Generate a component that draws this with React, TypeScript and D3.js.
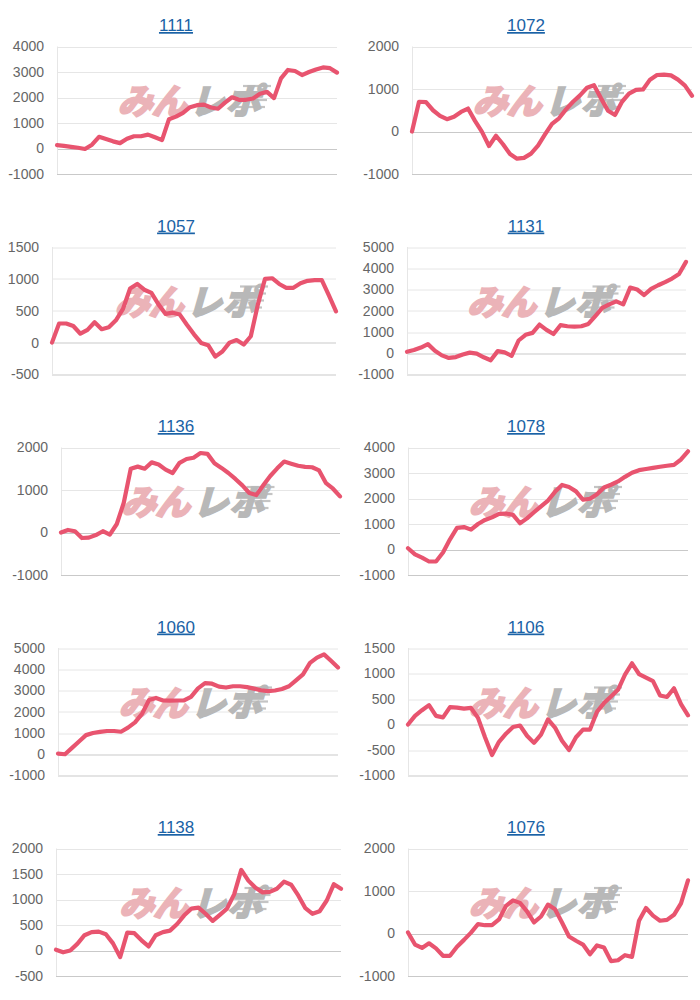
import React from "react";
import * as d3 from "d3";

// ---- data ----
const titles = ["1111", "1072", "1057", "1131", "1136", "1078", "1060", "1106", "1138", "1076"];

const s1111 = [130, 100, 65, 30, -20, 150, 460, 370, 280, 210, 380, 480, 480, 545, 440, 330, 1150, 1250, 1400, 1620, 1700, 1720, 1610, 1560, 1800, 2010, 1910, 1910, 1960, 2150, 2220, 1975, 2750, 3080, 3040, 2880, 3000, 3100, 3180, 3150, 2975];
const s1072 = [0, 700, 690, 500, 370, 290, 345, 460, 540, 250, -10, -340, -100, -300, -530, -640, -620, -520, -330, -70, 180, 310, 520, 700, 850, 1030, 1090, 780, 490, 390, 700, 890, 980, 990, 1220, 1330, 1340, 1320, 1220, 1080, 840];
const s1057 = [0, 300, 300, 260, 140, 200, 320, 210, 240, 350, 530, 850, 920, 830, 780, 600, 450, 470, 440, 280, 130, -5, -40, -220, -140, 0, 40, -30, 100, 600, 1000, 1010, 920, 860, 860, 930, 970, 980, 980, 740, 490];
const s1131 = [70, 150, 270, 430, 120, -100, -220, -180, -60, 30, -20, -190, -330, 100, 40, -120, 600, 870, 960, 1350, 1100, 905, 1320, 1270, 1250, 1270, 1380, 1750, 2130, 2300, 2440, 2300, 3090, 3000, 2740, 3030, 3200, 3350, 3515, 3730, 4300];
const s1136 = [0, 60, 30, -130, -120, -60, 30, -50, 200, 700, 1500, 1550, 1500, 1650, 1600, 1480, 1400, 1640, 1730, 1760, 1870, 1850, 1630, 1520, 1400, 1260, 1110, 930, 880, 1110, 1330, 1510, 1670, 1620, 1570, 1545, 1535, 1460, 1160, 1030, 850];
const s1078 = [50, -190, -320, -470, -470, -120, 400, 850, 880, 780, 1000, 1160, 1260, 1400, 1410, 1360, 1030, 1220, 1460, 1690, 1920, 2260, 2530, 2450, 2280, 1950, 1990, 2170, 2430, 2540, 2670, 2850, 3010, 3110, 3155, 3200, 3245, 3285, 3320, 3530, 3850];
const s1060 = [30, 0, 300, 600, 900, 1000, 1050, 1095, 1095, 1060, 1250, 1500, 1900, 2550, 2650, 2530, 2520, 2530, 2530, 2700, 3100, 3350, 3320, 3180, 3140, 3200, 3200, 3160, 3090, 3010, 2970, 3000, 3070, 3200, 3480, 3760, 4300, 4550, 4700, 4400, 4080];
const s1106 = [0, 170, 280, 380, 170, 140, 340, 330, 310, 325, 130, -250, -600, -340, -180, -50, -20, -220, -360, -200, 100, -60, -320, -500, -250, -100, -100, 250, 420, 550, 680, 980, 1200, 990, 920, 850, 570, 540, 710, 400, 180];
const s1138 = [15, -35, 0, 130, 300, 360, 370, 320, 140, -130, 350, 340, 200, 80, 300, 360, 390, 520, 690, 820, 840, 720, 580, 700, 820, 1100, 1580, 1370, 1230, 1140, 1150, 1210, 1350, 1290, 1080, 830, 720, 770, 980, 1300, 1210];
const s1076 = [25, -260, -340, -230, -350, -525, -525, -310, -150, 20, 220, 195, 195, 330, 650, 780, 720, 520, 260, 400, 680, 570, 260, -70, -170, -260, -490, -280, -330, -650, -630, -510, -550, 300, 600, 420, 300, 320, 440, 710, 1250];

const ticks1111 = [-1000, 0, 1000, 2000, 3000, 4000];
const ticks1072 = [-1000, 0, 1000, 2000];
const ticks1057 = [-500, 0, 500, 1000, 1500];
const ticks1131 = [-1000, 0, 1000, 2000, 3000, 4000, 5000];
const ticks1136 = [-1000, 0, 1000, 2000];
const ticks1078 = [-1000, 0, 1000, 2000, 3000, 4000];
const ticks1060 = [-1000, 0, 1000, 2000, 3000, 4000, 5000];
const ticks1106 = [-1000, -500, 0, 500, 1000, 1500];
const ticks1138 = [-500, 0, 500, 1000, 1500, 2000];
const ticks1076 = [-1000, 0, 1000, 2000];

const seriesList = [s1111, s1072, s1057, s1131, s1136, s1078, s1060, s1106, s1138, s1076];
const tickList = [ticks1111, ticks1072, ticks1057, ticks1131, ticks1136, ticks1078, ticks1060, ticks1106, ticks1138, ticks1076];

const watermarkPink = "みん";
const watermarkGray = "レポ";

// ---- layout ----
const W = 700;
const H = 1000;
const PANEL_W = 350;
const ROW_H = 200.5;
const plotLefts = [57, 62, 52, 57, 61, 58, 58, 58, 56, 58];
const plotRights = [337, 342, 336, 336, 340, 338, 338, 338, 341, 338];
const PLOT_TOP = 46.5;
const PLOT_BOTTOM = 174;

const LINE_COLOR = "#e8546f";
const FONT = "'Liberation Sans', Arial, sans-serif";
const CJK = "'Noto Sans CJK JP', sans-serif";

function Watermark({ cx, cy }: { cx: number; cy: number }) {
  const speed = [-16, -9, -2, 5];
  return (
    <g transform={`translate(${cx},${cy})`}>
      {speed.map((dy, i) => (
        <line
          key={i}
          x1={52 - i * 3}
          x2={80 - i * 2}
          y1={dy}
          y2={dy}
          stroke="#c4c4c4"
          strokeWidth={2.2}
        />
      ))}
      <g transform="skewX(-16)">
        <text
          x={-2}
          y={12}
          textAnchor="end"
          fontFamily={CJK}
          fontWeight={900}
          fontSize={35}
          fill="#ebb3b8"
          stroke="#ebb3b8"
          strokeWidth={1.6}
          letterSpacing={-1}
        >
          {watermarkPink}
        </text>
        <text
          x={2}
          y={12}
          textAnchor="start"
          fontFamily={CJK}
          fontWeight={900}
          fontSize={35}
          fill="#b8b8b8"
          stroke="#b8b8b8"
          strokeWidth={1.6}
          letterSpacing={1}
        >
          {watermarkGray}
        </text>
      </g>
    </g>
  );
}

function Panel({ idx }: { idx: number }) {
  const col = idx % 2;
  const row = Math.floor(idx / 2);
  const x0 = col * PANEL_W;
  const y0 = row * ROW_H;
  const values = seriesList[idx];
  const ticks = tickList[idx];
  const left = plotLefts[idx];
  const right = plotRights[idx];

  const x = d3.scaleLinear().domain([0, values.length - 1]).range([left, right]);
  const y = d3
    .scaleLinear()
    .domain([ticks[0], ticks[ticks.length - 1]])
    .range([PLOT_BOTTOM, PLOT_TOP]);

  const line = d3
    .line<number>()
    .x((_, i) => x(i))
    .y((d) => y(d))
    .curve(d3.curveLinear);

  const wmX = (left + right) / 2 - 6;
  const wmY = 102;

  return (
    <g transform={`translate(${x0},${y0})`}>
      <text
        x={176}
        y={31}
        textAnchor="middle"
        fontFamily={FONT}
        fontSize={17}
        fill="#1a62a6"
        textDecoration="underline"
      >
        {titles[idx]}
      </text>
      {ticks.map((t, i) => (
        <line
          key={"g" + t}
          x1={left}
          x2={right}
          y1={Math.round(y(t)) + 0.5}
          y2={Math.round(y(t)) + 0.5}
          stroke={t === 0 || i === 0 ? "#c9c9c9" : "#e6e6e6"}
          strokeWidth={1}
        />
      ))}
      <line
        x1={left + 0.5}
        x2={left + 0.5}
        y1={PLOT_TOP}
        y2={PLOT_BOTTOM}
        stroke="#e6e6e6"
        strokeWidth={1}
      />
      {ticks.map((t) => (
        <text
          key={"t" + t}
          x={left - 13}
          y={y(t)}
          dy="0.35em"
          textAnchor="end"
          fontFamily={FONT}
          fontSize={14}
          fill="#666"
        >
          {t}
        </text>
      ))}
      <Watermark cx={wmX} cy={wmY} />
      <path
        d={line(values) || ""}
        fill="none"
        stroke={LINE_COLOR}
        strokeWidth={4.2}
        strokeLinejoin="round"
        strokeLinecap="round"
      />
    </g>
  );
}

export default function App() {
  return (
    <svg
      width={W}
      height={H}
      viewBox={`0 0 ${W} ${H}`}
      style={{ position: "absolute", left: 0, top: 0, background: "#fff" }}
    >
      <rect x={0} y={0} width={W} height={H} fill="#fff" />
      {titles.map((_, i) => (
        <Panel key={i} idx={i} />
      ))}
    </svg>
  );
}
